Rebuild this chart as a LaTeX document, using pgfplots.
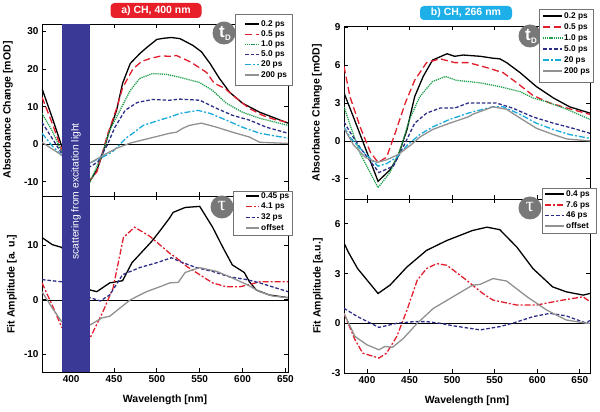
\documentclass[border=0pt]{standalone}
\usepackage{pgfplots}
\pgfplotsset{compat=1.18}
\usepackage{fontspec}
\setmainfont{Liberation Sans}
\newfontfamily\greekserif{Liberation Serif}
\definecolor{cred}{RGB}{226,30,45}
\definecolor{cgreen}{RGB}{30,160,75}
\definecolor{cnavy}{RGB}{45,45,135}
\definecolor{ccyan}{RGB}{25,170,220}
\definecolor{cgray}{RGB}{145,145,145}
\definecolor{cband}{RGB}{58,58,150}
\definecolor{ctitlered}{RGB}{232,30,40}
\definecolor{ctitlecyan}{RGB}{30,175,232}
\definecolor{cicon}{RGB}{120,120,120}
\tikzset{
  s1/.style={color=black, draw=black, line width=1.3pt},
  s2/.style={color=cred, draw=cred, line width=1.3pt, dash pattern=on 7pt off 3.5pt},
  s3/.style={color=cgreen, draw=cgreen, line width=1.3pt, dash pattern=on 1.2pt off 0.9pt},
  s4/.style={color=cnavy, draw=cnavy, line width=1.3pt, dash pattern=on 3.5pt off 2pt},
  s5/.style={color=ccyan, draw=ccyan, line width=1.3pt, dash pattern=on 6pt off 2pt on 2pt off 2pt},
  s6/.style={color=cgray, draw=cgray, line width=1.3pt},
  sdd/.style={color=cred, draw=cred, line width=1.3pt, dash pattern=on 6pt off 2pt on 2pt off 2pt},
  legtxt/.style={anchor=west, inner sep=0pt, font=\fontsize{8.3}{9.5}\selectfont\bfseries},
  legbox/.style={draw=black!55, fill=white, line width=0.5pt},
}
\newcommand{\legentry}[5]{%
  \draw[#4] (#1,#3) -- (#2,#3);
  \node[legtxt] at (#2+2,#3) {#5};}
\pgfplotsset{
  base/.style={
    scale only axis, width=246pt, anchor=south west,
    axis line style={line width=0.8pt},
    tick style={black, line width=0.8pt},
    major tick length=4pt, tick align=inside,
    xtick={400,450,...,650},
    ticklabel style={font=\fontsize{10}{12}\selectfont\bfseries},
    /pgf/number format/assume math mode=true,
    label style={font=\fontsize{10.5}{12}\selectfont\bfseries},
    clip mode=individual,
  },
}
\begin{document}
\begin{tikzpicture}[x=1pt,y=1pt]
\path[use as bounding box] (0,0) rectangle (600,412);

% ---------- left top ----------
\begin{axis}[base, at={(42pt,216pt)}, height=172pt,
  xmin=366, xmax=653, ymin=-13.8, ymax=32, ytick={-10,0,10,20,30},
  xticklabels={},
  ylabel={Absorbance Change [mOD]},
  ylabel style={at={(axis description cs:-0.138,0.5)}, anchor=center}]
\draw[black, line width=0.6pt] (axis cs:366,0) -- (axis cs:653,0);
\addplot[s1] coordinates {(366,14.8)(378,7)(389,-0.5)(405,-6)(422,-9.8)(430,-6.9)(437,-2.4)(443,2.4)(453,9)(460,16.2)(469,21.5)(480,24.1)(488,25.7)(500,27.9)(508,28.2)(517,28.4)(527,28.1)(542,26.3)(552,24.6)(562,21.5)(573,17.5)(585,13.8)(600,10.9)(620,8.5)(635,7.2)(653,5.6)};
\addplot[s2] coordinates {(366,12.5)(378,5.5)(389,-1.5)(405,-6)(422,-9.5)(430,-7.4)(443,2.9)(453,9.5)(460,15)(472,20)(482,22)(492,22.8)(505,23.5)(515,23.4)(523,23.6)(540,21.8)(558,19.1)(567,16.2)(579,14.9)(593,12.2)(608,9.5)(623,7.7)(637,6.6)(653,5.8)};
\addplot[s3] coordinates {(366,8.2)(378,3.5)(389,-2)(405,-6)(422,-10)(436,-2.9)(445,3.7)(457,9)(469,14.3)(480,17.5)(495,18.8)(511,18.6)(527,17.8)(550,16.4)(565,14.3)(581,10.9)(600,8.5)(620,6.9)(653,5)};
\addplot[s4] coordinates {(366,5.8)(378,1.5)(389,-2.5)(405,-4.5)(422,-6)(431,-4.8)(442,-0.3)(451,4.5)(463,9)(477,11.1)(495,11.9)(515,11.7)(527,12)(550,11.7)(570,9.5)(588,7.7)(608,6.4)(628,4.5)(653,2.9)};
\addplot[s5] coordinates {(366,2.9)(378,-0.5)(389,-3)(405,-4)(422,-5)(437,-3.4)(448,-2.1)(457,0)(465,1.8)(472,2.9)(484,5)(503,6.4)(515,7.2)(527,8.2)(548,9)(562,8.2)(581,6.4)(600,4.5)(620,2.9)(653,1.6)};
\addplot[s6] coordinates {(366,0.5)(378,-1.3)(389,-2.9)(405,-4)(422,-5)(442,-2.4)(453,-1.1)(469,0.3)(492,1.6)(515,2.9)(523,3.2)(530,4.2)(538,5)(552,5.6)(570,4.5)(588,3.2)(608,1.9)(620,0.5)(653,0.2)};
\coordinate (bandTop) at (axis cs:389,32);
\end{axis}

% ---------- left bottom ----------
\begin{axis}[base, at={(42pt,40pt)}, height=176pt,
  xmin=366, xmax=653, ymin=-13.2, ymax=19, ytick={-10,0,10},
  xlabel={Wavelength [nm]},
  xlabel style={at={(axis description cs:0.5,-0.16)}, anchor=center},
  ylabel={Fit Amplitude [a. u.]},
  ylabel style={at={(axis description cs:-0.122,0.5)}, anchor=center}]
\draw[black, line width=0.6pt] (axis cs:366,0) -- (axis cs:653,0);
\addplot[s1] coordinates {(366,11.4)(378,10.1)(389,9.6)(405,6)(422,1.8)(430,1.5)(445,3.1)(460,3.5)(471,6.8)(494,10.7)(503,12.5)(515,15)(519,16)(533,16.9)(550,17.1)(565,13.3)(577,9.6)(588,6.4)(602,5)(608,3.3)(616,1.8)(631,0.9)(653,0.4)};
\addplot[sdd] coordinates {(366,3.1)(378,-1)(389,-5)(405,-6)(422,-7)(437,-2.2)(449,2.2)(461,11.4)(474,13.3)(492,11.6)(507,9.6)(515,8.5)(521,7.9)(535,6.1)(550,4.6)(565,3.1)(581,2.4)(597,2.4)(608,2.8)(620,3.3)(653,3.3)};
\addplot[s4] coordinates {(366,3.7)(389,3.3)(405,2)(422,0.4)(434,-0.2)(445,0.9)(460,4.6)(480,5.9)(500,6.8)(517,7.7)(527,7)(546,5.9)(565,5.2)(585,4.2)(605,3.7)(620,3.1)(653,1.5)};
\addplot[s6] coordinates {(366,1.5)(378,-1.5)(389,-4)(405,-4.3)(422,-4.6)(436,-3.3)(445,-3)(457,-1.5)(469,0)(488,1.5)(507,2.6)(515,3.1)(525,3.2)(533,5)(542,5.5)(550,5.9)(570,5.2)(588,4)(605,2.8)(620,1.5)(635,0.7)(653,0.4)};
\coordinate (bandBot) at (axis cs:422,-13.2);
\end{axis}

% ---------- right top ----------
\begin{axis}[base, at={(344pt,213pt)}, height=173pt,
  xmin=373, xmax=662, ymin=-4.6, ymax=9.1, ytick={-3,0,3,6,9},
  xticklabels={},
  ylabel={Absorbance Change [mOD]},
  ylabel style={at={(axis description cs:-0.11,0.5)}, anchor=center}]
\draw[black, line width=0.6pt] (axis cs:373,0) -- (axis cs:662,0);
\addplot[s1] coordinates {(373,3.8)(384,1.9)(392,0.5)(413,-3.2)(427,-2.3)(436,-1.3)(447,0.9)(456,3.5)(466,5.1)(477,6.4)(494,6.9)(503,6.7)(513,6.8)(533,6.7)(548,6.55)(556,6.5)(564,6.2)(580,5.4)(599,4.3)(619,3.4)(638,2.7)(662,2.2)};
\addplot[s2] coordinates {(373,5.9)(380,3.5)(392,1.1)(404,-0.9)(413,-1.7)(423,-1.3)(433,0.6)(445,3.0)(456,4.8)(470,6.2)(486,6.5)(503,6.2)(519,6.2)(541,5.8)(560,5.4)(576,4.6)(595,3.6)(615,3.0)(635,2.6)(662,2.1)};
\addplot[s3] coordinates {(373,2.7)(382,0.9)(392,-1.0)(413,-3.7)(427,-2.5)(439,-0.7)(450,1.7)(462,3.5)(477,4.7)(492,5.1)(505,4.8)(519,4.7)(533,4.6)(556,4.3)(580,3.9)(595,3.4)(611,3.1)(635,2.5)(662,1.7)};
\addplot[s4] coordinates {(373,1.5)(380,0.7)(392,-0.55)(414,-2.5)(431,-2.0)(445,-0.15)(456,1.4)(470,2.2)(486,2.6)(503,2.6)(519,3.0)(533,3.0)(552,3.0)(571,2.6)(595,1.9)(619,1.4)(642,1.0)(662,0.6)};
\addplot[s5] coordinates {(373,1.1)(380,0.3)(392,-0.6)(413,-2.0)(423,-1.8)(435,-1.3)(448,-0.3)(462,0.5)(477,1.1)(497,1.7)(519,2.2)(524,2.3)(548,2.7)(560,2.7)(580,2.1)(599,1.4)(619,0.9)(638,0.5)(662,0.2)};
\addplot[s6] coordinates {(373,1.0)(384,-0.3)(398,-1.3)(412,-1.7)(423,-1.5)(436,-1.1)(452,-0.3)(462,0.3)(477,0.9)(497,1.4)(519,1.9)(524,2.1)(548,2.7)(564,2.5)(580,1.8)(599,1.0)(619,0.5)(635,0.15)(662,0)};
\end{axis}

% ---------- right bottom ----------
\begin{axis}[base, at={(344pt,39pt)}, height=174pt,
  xmin=373, xmax=662, ymin=-3, ymax=7.5, ytick={-3,0,3,6},
  xlabel={Wavelength [nm]},
  xlabel style={at={(axis description cs:0.5,-0.16)}, anchor=center},
  ylabel={Fit Amplitude [a.u.]},
  ylabel style={at={(axis description cs:-0.106,0.5)}, anchor=center}]
\draw[black, line width=0.6pt] (axis cs:373,0) -- (axis cs:662,0);
\addplot[s1] coordinates {(373,4.85)(378,4.3)(389,3.3)(413,1.8)(427,2.3)(447,3.4)(470,4.4)(494,5.0)(524,5.6)(541,5.8)(556,5.65)(576,4.6)(595,3.3)(618,2.2)(634,1.9)(654,1.7)(662,1.8)};
\addplot[sdd] coordinates {(373,0.6)(386,-1.0)(395,-1.8)(414,-2.1)(423,-1.8)(435,-0.8)(447,0.8)(459,2.6)(470,3.3)(482,3.6)(494,3.5)(517,2.6)(536,1.8)(548,1.4)(576,1.1)(599,1.1)(630,1.4)(654,1.6)(662,1.3)};
\addplot[s4] coordinates {(373,0.9)(389,0.4)(414,-0.25)(435,0)(455,0.1)(470,0.1)(486,0)(501,-0.15)(533,-0.4)(556,-0.2)(571,0)(595,0.4)(615,0.6)(634,0.45)(658,0)(662,0.2)};
\addplot[s6] coordinates {(373,0.6)(386,-0.8)(400,-1.3)(414,-1.6)(421,-1.4)(430,-1.45)(443,-0.9)(459,0)(478,0.9)(501,1.6)(524,2.3)(533,2.35)(548,2.7)(564,2.55)(588,1.6)(611,0.8)(634,0.2)(658,0)(662,0)};
\end{axis}

% ---------- band ----------
\fill[cband] (bandTop) rectangle (bandBot);
\node[rotate=90, text=white, font=\fontsize{10.3}{12}\selectfont, inner sep=0pt] at (76,220.5) {scattering from excitation light};

% ---------- titles ----------
\node[fill=ctitlered, rounded corners=4pt, text=white, font=\fontsize{10.5}{12}\selectfont\bfseries, minimum width=91pt, minimum height=15pt, inner sep=0pt] at (156,401.5) {a) CH, 400 nm};
\node[fill=ctitlecyan, rounded corners=4pt, text=white, font=\fontsize{10.5}{12}\selectfont\bfseries, minimum width=92pt, minimum height=14pt, inner sep=0pt] at (466,399) {b) CH, 266 nm};

% ---------- icons ----------
\foreach \cx/\cy in {224/379, 530/376} {
  \fill[cicon] (\cx,\cy) circle (11.5);
  \node[text=white, font=\fontsize{17}{17}\selectfont\bfseries, inner sep=0pt] at (\cx-2,\cy+1) {t};
  \node[text=white, font=\fontsize{8}{8}\selectfont\bfseries, inner sep=0pt] at (\cx+4,\cy-4.5) {D};
}
\foreach \cx/\cy in {222/205, 530/204} {
  \fill[cicon] (\cx,\cy) circle (11.5);
  \node[text=white, font=\greekserif\fontsize{20}{20}\selectfont, inner sep=0pt] at (\cx,\cy+1) {τ};
}

% ---------- legends ----------
% left top
\draw[legbox] (235,398) rectangle (292,327);
\legentry{245}{259}{388}{s1}{0.2 ps}
\legentry{245}{259}{377.8}{s2}{0.5 ps}
\legentry{245}{259}{367.6}{s3}{1.0 ps}
\legentry{245}{259}{357.4}{s4}{5.0 ps}
\legentry{245}{259}{347.2}{s5}{20 ps}
\legentry{245}{259}{337}{s6}{200 ps}
% left bottom
\draw[legbox] (233,221) rectangle (292,177);
\legentry{246}{259}{216}{s1}{0.45 ps}
\legentry{246}{259}{205.3}{sdd}{4.1 ps}
\legentry{246}{259}{194.6}{s4}{32 ps}
\legentry{246}{259}{184}{s6}{offset}
% right top
\draw[legbox] (539,403) rectangle (593,330);
\legentry{543}{562}{396}{s1}{0.2 ps}
\legentry{543}{562}{385}{s2}{0.5 ps}
\legentry{543}{562}{374}{s3}{1.0 ps}
\legentry{543}{562}{363}{s4}{5.0 ps}
\legentry{543}{562}{352}{s5}{20 ps}
\legentry{543}{562}{341}{s6}{200 ps}
% right bottom
\draw[legbox] (542,224) rectangle (596,179);
\legentry{545}{564}{218}{s1}{0.4 ps}
\legentry{545}{564}{207}{sdd}{7.6 ps}
\legentry{545}{564}{196.5}{s4}{46 ps}
\legentry{545}{564}{186}{s6}{offset}
\end{tikzpicture}
\end{document}
